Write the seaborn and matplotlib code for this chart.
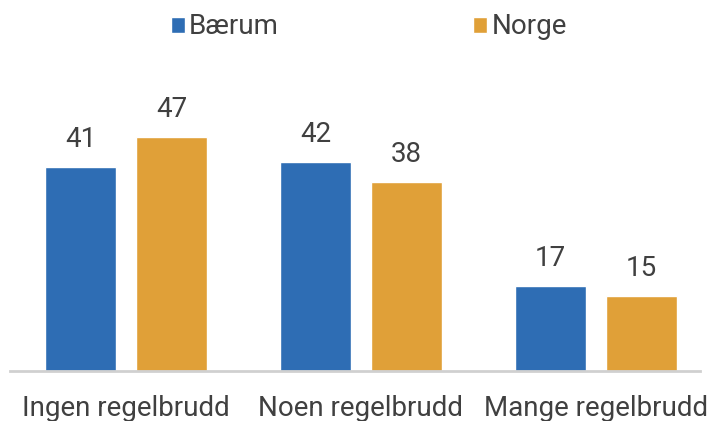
import pandas as pd
import seaborn as sns
import matplotlib.pyplot as plt

# Data
categories = ["Ingen regelbrudd", "Noen regelbrudd", "Mange regelbrudd"]
baerum = [41, 42, 17]
norge = [47, 38, 15]
series = ["Bærum", "Norge"]

df = pd.DataFrame({
    "kategori": categories * 2,
    "verdi": baerum + norge,
    "serie": [series[0]] * 3 + [series[1]] * 3,
})

sns.set_style("white")
plt.rcParams['font.family'] = ['Roboto', 'DejaVu Sans']

fig = plt.figure(figsize=(7.11, 4.21), dpi=100)
ax = fig.add_axes([10 / 711, 1 - 371 / 421, 690 / 711, 301 / 421])

palette = {"Bærum": "#2E6DB4", "Norge": "#E0A038"}
sns.barplot(data=df, x="kategori", y="verdi", hue="serie", palette=palette,
            width=0.774, gap=0.22, ax=ax, legend=True, saturation=1)

for cont in ax.containers:
    ax.bar_label(cont, fmt="%d", padding=10, fontsize=20, color="#404040")

ax.set_ylim(0, 60.4)
ax.set_xlim(-0.494, 2.443)
ax.set_xlabel("")
ax.set_ylabel("")
ax.set_yticks([])
ax.tick_params(axis="x", length=0, labelsize=20, labelcolor="#404040", pad=17)
for s in ["top", "left", "right"]:
    ax.spines[s].set_visible(False)
ax.spines["bottom"].set_color("#D0D0D0")
ax.spines["bottom"].set_linewidth(2)

leg = ax.legend(loc="center", bbox_to_anchor=(369 / 711, 1 - 27 / 421),
                bbox_transform=fig.transFigure, ncol=2, frameon=False,
                fontsize=20, handlelength=0.5, handleheight=0.5,
                handletextpad=0.15, columnspacing=7.0)
for t in leg.get_texts():
    t.set_color("#404040")

plt.savefig("out.png", dpi=100)
